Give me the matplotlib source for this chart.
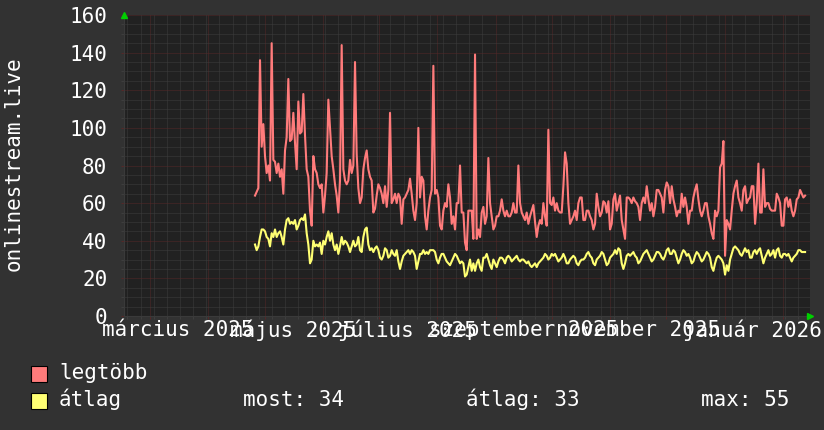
import matplotlib
matplotlib.use('Agg')
import matplotlib.pyplot as plt
import matplotlib.dates as mdates
from matplotlib.ticker import MultipleLocator, NullFormatter
from matplotlib.patches import Rectangle
import pandas as pd

# napi értékek (legtöbb / átlag), 2025-04-25 .. 2026-02-12
legtobb = [
    64, 66, 68, 136, 90, 102, 85, 76, 80, 72,
    145, 83, 82, 76, 81, 74, 78, 65, 88, 95,
    126, 93, 94, 108, 92, 78, 114, 97, 98, 118,
    96, 78, 74, 56, 48, 85, 78, 76, 70, 68,
    70, 55, 64, 76, 115, 100, 85, 78, 70, 64,
    55, 72, 144, 78, 72, 70, 72, 83, 76, 80,
    135, 86, 68, 60, 63, 78, 84, 88, 78, 74,
    72, 55, 57, 64, 70, 68, 65, 60,
    69, 58, 67, 108, 60, 62, 65, 60, 65, 63,
    49, 62, 63, 65, 67, 73, 65, 56, 51, 60,
    100, 63, 74, 72, 53, 46, 56, 63, 67, 133,
    65, 67, 63, 48, 46, 56, 60, 58, 70, 63,
    49, 53, 46, 60, 60, 80, 55, 55, 39, 35,
    56, 56, 56, 41, 139, 41, 46, 42, 55, 58,
    49, 53, 84, 60, 53, 46, 48, 53, 53, 56,
    62, 56, 53, 56, 53, 53, 55, 60, 55, 55,
    80, 60, 55, 53,
    51, 55, 49, 53, 56, 59, 50, 42, 48, 51,
    49, 60, 53, 48, 99, 60, 59, 63, 56, 60,
    56, 55, 55, 69, 87, 81, 60, 49, 51, 53,
    56, 51, 60, 63, 63, 51, 51, 56, 56, 53,
    51, 46, 49, 65, 58, 53, 55, 61, 60, 55,
    61, 46, 49, 62, 65, 56, 60, 64, 51, 46,
    41, 63, 63, 62, 60, 63, 61, 60, 58, 51,
    60, 63, 60, 69, 62, 56, 60, 53, 58, 67,
    67,
    65, 63, 55, 67, 71, 69, 60, 69, 62, 58,
    53, 56, 55, 65, 58, 63, 58, 49, 56, 56,
    63, 67, 70, 62, 56, 53, 56, 60, 60, 53,
    49, 44, 41, 56, 53, 56, 79, 81, 93, 32,
    51, 49, 46, 56, 65, 69, 72, 63, 60, 56,
    67, 69, 60, 62, 63, 69, 69, 49, 60, 81,
    55, 55, 78, 58, 60, 60, 57, 56, 56, 56,
    65, 63, 60, 48, 48, 62, 63, 58, 62, 56,
    53, 56, 62, 63, 67, 65, 63, 64,
]

atlag = [
    38, 35, 37, 42, 46, 46, 45, 42, 41, 37,
    44, 42, 46, 42, 44, 45, 42, 38, 46, 51,
    52, 49, 50, 49, 51, 46, 48, 51, 52, 51,
    54, 44, 38, 28, 30, 40, 37, 38, 37, 39,
    33, 40, 38, 42, 45, 40, 44, 38, 35, 38,
    33, 37, 42, 38, 40, 39, 37, 34, 37, 40,
    37, 38, 42, 35, 34, 42, 46, 47, 38, 35,
    36, 34, 36, 37, 35, 31, 30, 32, 36, 35,
    31, 32, 35, 33, 32, 35, 29,
    25, 29, 32, 33, 34, 35, 33, 35, 34, 32,
    25, 29, 33, 33, 35, 33, 34, 33, 35, 35,
    35, 34, 30, 28, 31, 33, 33, 31, 29, 28,
    27, 29, 31, 33, 32, 30, 28, 29, 28, 21,
    22, 26, 30, 24, 28, 24, 28, 30, 26, 24,
    31, 31, 33, 30, 27, 25, 30, 28, 26, 29,
    31, 31, 30, 28, 31, 32, 31, 29, 30, 31,
    32, 30, 29, 30, 30, 29, 28, 29, 27, 26,
    27, 28, 26, 28, 29, 30, 31, 33, 32, 30,
    31, 33, 32, 33, 31, 29, 30, 31, 33, 31,
    28, 28, 30, 31, 32, 31, 28, 27, 29, 30,
    30, 31, 33, 34, 32, 31, 28, 27, 30, 31,
    32, 34, 33, 30, 27, 28, 31, 32, 33, 35,
    33, 36, 35, 28, 25, 28, 32, 33, 32, 33,
    34, 32, 31, 28, 29, 31, 33, 34, 35, 33,
    31, 29, 30, 32, 34, 34, 33, 31, 30, 32,
    35, 36, 33, 33, 35, 34, 31, 28, 30, 33,
    35, 34, 32, 33, 31, 28, 29, 32, 34, 33,
    31, 29, 30, 32, 34, 33, 31, 26, 24, 28,
    31, 32, 31, 30, 28, 22, 27, 24, 30, 33,
    36, 37, 36, 35, 33, 32, 34, 36, 34, 35,
    31, 31, 34, 35, 33, 35, 36, 32, 28, 31,
    33, 35, 32, 33, 35, 31, 35, 36, 32, 31,
    33, 33, 32, 33, 31, 29, 31, 32, 33, 35,
    35, 34, 34, 34,
]

data_start = '2025-04-25 22:00'
data_end = '2026-02-12 19:00'
view_start = '2025-02-15 04:00'
view_end = '2026-02-15 10:00'

month_labels = ['március 2025', 'május 2025', 'július 2025',
                'szeptember 2025', 'november 2025', 'január 2026']
label_dates = ['2025-03-16', '2025-05-16', '2025-07-16',
               '2025-09-16', '2025-11-16', '2026-01-16']

series_names = ['legtöbb', 'átlag']
stats = ['most: 34', 'átlag: 33', 'max: 55']
ylabel = 'onlinestream.live'

BG = '#323232'
CANVAS = '#212121'
RED = '#ff7b7b'
YELLOW = '#ffff73'
MAJOR = '#552828'
MINOR = '#3e3e3e'
FS = 15

plt.rcParams['font.family'] = ['DejaVu Sans Mono']

fig = plt.figure(figsize=(8.24, 4.30), dpi=100, facecolor=BG)
ax = fig.add_axes([124 / 824, 114 / 430, 686 / 824, 301 / 430])
ax.set_facecolor(CANVAS)

times = pd.date_range(data_start, data_end, periods=len(legtobb))
ax.plot(times, legtobb, color=RED, lw=1.5, zorder=3)
ax.plot(times, atlag, color=YELLOW, lw=1.5, zorder=3)

ax.set_xlim(pd.Timestamp(view_start), pd.Timestamp(view_end))
ax.set_ylim(0, 160)

# rácsok: heti / havi, 5-ös / 20-as
ax.xaxis.set_major_locator(mdates.MonthLocator())
ax.xaxis.set_minor_locator(mdates.WeekdayLocator(byweekday=mdates.MO))
ax.xaxis.set_major_formatter(NullFormatter())
ax.yaxis.set_major_locator(MultipleLocator(20))
ax.yaxis.set_minor_locator(MultipleLocator(5))
ax.grid(which='minor', color=MINOR, ls=(0, (1, 1)), lw=0.72)
ax.grid(which='major', color=MAJOR, ls=(0, (1, 1)), lw=0.72)
ax.set_axisbelow(True)

ax.tick_params(which='major', color=MAJOR, length=2, width=0.72)
ax.tick_params(which='minor', color=MINOR, length=2, width=0.72)
ax.tick_params(axis='y', labelsize=FS, labelcolor='white', pad=10)
ax.tick_params(axis='x', labelbottom=False)

for s in ['top', 'right']:
    ax.spines[s].set_visible(False)
for s in ['left', 'bottom']:
    ax.spines[s].set_color('#3a3a3a')

# hónap feliratok
for d, lab in zip(label_dates, month_labels):
    ax.text(pd.Timestamp(d), -0.047, lab, transform=ax.get_xaxis_transform(),
            ha='center', va='center', color='white', fontsize=FS, clip_on=False)

# zöld nyilak a tengelyek végén
ax.plot([0.0], [1.0], marker='^', ms=5, color='#00d000', transform=ax.transAxes,
        clip_on=False, zorder=5, ls='none')
ax.plot([1.0], [0.0], marker='>', ms=5, color='#00d000', transform=ax.transAxes,
        clip_on=False, zorder=5, ls='none')

fig.text(14 / 824, 1 - 164 / 430, ylabel, rotation=90, ha='center', va='center',
         color='white', fontsize=FS)

# jelmagyarázat
colors = [RED, YELLOW]
rows_y = [366, 393]
for name, c, ry in zip(series_names, colors, rows_y):
    fig.add_artist(Rectangle((31 / 824, 1 - (ry + 16) / 430), 16 / 824, 16 / 430,
                             transform=fig.transFigure, facecolor=c,
                             edgecolor='black', lw=0.8))
    fig.text(59 / 824, 1 - (ry + 13) / 430, name, ha='left', va='baseline',
             color='white', fontsize=FS)

for txt, sx in zip(stats, [243, 466, 701]):
    fig.text(sx / 824, 1 - 406 / 430, txt, ha='left', va='baseline',
             color='white', fontsize=FS)

fig.savefig('out.png', dpi=100, facecolor=BG)
